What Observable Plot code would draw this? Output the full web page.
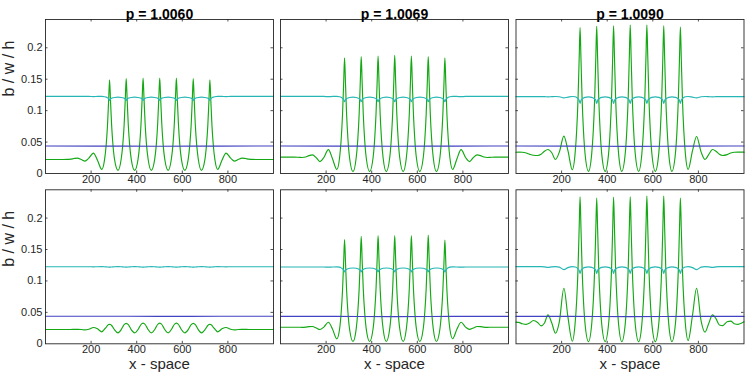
<!DOCTYPE html>
<html><head><meta charset="utf-8">
<script src="https://cdn.jsdelivr.net/npm/d3@7"></script>
<script src="https://cdn.jsdelivr.net/npm/@observablehq/plot@0.6"></script>
<style>
html,body{margin:0;padding:0;background:#fff;}
#chart{position:relative;width:747px;height:374px;overflow:hidden;}
</style></head><body><div id="chart"></div>
<script>
const titles = ["p = 1.0060", "p = 1.0069", "p = 1.0090"];
const xTicks = [200, 400, 600, 800];
const yTicks = [0, 0.05, 0.1, 0.15, 0.2];
const yLabel = "b / w / h";
const xLabel = "x - space";

const xs = [
0,12,28,45,60,76,95,110,125,140,157,173,190,210,228,247,
259,266,272,277,281,285,290,296,303,318,
332,339,345,350,354,358,363,369,376,391,
406,413,419,424,428,432,437,443,450,464,
479,486,492,497,501,505,510,516,523,538,
552,559,565,570,574,578,583,589,596,611,
626,633,639,644,648,652,657,663,670,684,
699,706,712,717,721,725,730,736,743,
755,774,792,812,829,845,862,877,892,907,926,942,957,974,990,1000];

// b (green), top row
const b1 = [
0.0223,0.0223,0.0223,0.0223,0.0223,0.0223,0.0224,0.0228,0.0238,0.0245,0.0222,0.0198,0.0245,0.0325,0.0210,0.0065,
0.022,0.045,0.077,0.117,0.149,0.117,0.077,0.045,0.022,0.005,
0.023,0.046,0.078,0.119,0.151,0.119,0.078,0.046,0.023,0.005,
0.023,0.046,0.079,0.120,0.152,0.120,0.079,0.046,0.023,0.005,
0.023,0.046,0.079,0.120,0.152,0.120,0.079,0.046,0.023,0.005,
0.023,0.046,0.079,0.120,0.152,0.120,0.079,0.046,0.023,0.005,
0.023,0.046,0.078,0.119,0.151,0.119,0.078,0.046,0.023,0.005,
0.022,0.045,0.077,0.117,0.149,0.117,0.077,0.045,0.022,
0.0065,0.0210,0.0325,0.0245,0.0198,0.0222,0.0245,0.0238,0.0228,0.0224,0.0223,0.0223,0.0223,0.0223,0.0223,0.0223];
const b2 = [
0.0260,0.0260,0.0260,0.0260,0.0260,0.0259,0.0255,0.0262,0.0285,0.0296,0.0250,0.0190,0.0255,0.0380,0.0235,0.0064,
0.0247,0.0537,0.0935,0.144,0.184,0.144,0.0935,0.0537,0.0247,0.003,
0.025,0.054,0.0945,0.146,0.186,0.146,0.0945,0.054,0.025,0.003,
0.025,0.0545,0.095,0.1465,0.187,0.1465,0.095,0.0545,0.025,0.003,
0.025,0.055,0.0955,0.147,0.188,0.147,0.0955,0.055,0.025,0.003,
0.025,0.0545,0.095,0.1465,0.187,0.1465,0.095,0.0545,0.025,0.003,
0.025,0.054,0.0945,0.146,0.186,0.146,0.0945,0.054,0.025,0.003,
0.0247,0.0537,0.0935,0.144,0.184,0.144,0.0935,0.0537,0.0247,
0.0064,0.0235,0.0380,0.0255,0.0190,0.0250,0.0296,0.0285,0.0262,0.0255,0.0259,0.0260,0.0260,0.0260,0.0260,0.0260];
const b3 = [
0.0338,0.0340,0.0338,0.0325,0.0305,0.0290,0.0287,0.0305,0.0355,0.0382,0.0330,0.0223,0.0340,0.0594,0.0360,0.0059,
0.031,0.0675,0.118,0.182,0.232,0.182,0.118,0.0675,0.031,0.0035,
0.0312,0.068,0.1188,0.1833,0.234,0.1833,0.1188,0.068,0.0312,0.0035,
0.0313,0.0683,0.119,0.184,0.235,0.184,0.119,0.0683,0.0313,0.0035,
0.0314,0.0686,0.1198,0.185,0.236,0.185,0.1198,0.0686,0.0314,0.0035,
0.0314,0.0686,0.1198,0.185,0.236,0.185,0.1198,0.0686,0.0314,0.0035,
0.0313,0.0683,0.119,0.184,0.235,0.184,0.119,0.0683,0.0313,0.0035,
0.031,0.0678,0.1183,0.1825,0.233,0.1825,0.1183,0.0678,0.031,
0.0064,0.0360,0.0589,0.0340,0.0223,0.0300,0.0382,0.0355,0.0305,0.0287,0.0300,0.0325,0.0338,0.0340,0.0340,0.0340];
// b (green), bottom row
const b4 = [
0.0228,0.0228,0.0228,0.0228,0.0228,0.0228,0.0228,0.0228,0.0229,0.0230,0.0227,0.0221,0.0232,0.0260,0.0238,0.0190,
0.0235,0.0262,0.0291,0.0306,0.0310,0.0306,0.0291,0.0261,0.0221,0.0175,
0.0226,0.0271,0.0304,0.0320,0.0325,0.0320,0.0304,0.0271,0.0226,0.0175,
0.0227,0.0273,0.0307,0.0323,0.0328,0.0323,0.0307,0.0273,0.0227,0.0175,
0.0227,0.0273,0.0307,0.0323,0.0328,0.0323,0.0307,0.0273,0.0227,0.0175,
0.0227,0.0273,0.0307,0.0323,0.0328,0.0323,0.0307,0.0273,0.0227,0.0175,
0.0226,0.0271,0.0304,0.0320,0.0325,0.0320,0.0304,0.0271,0.0226,0.0175,
0.0221,0.0261,0.0291,0.0306,0.0310,0.0306,0.0291,0.0262,0.0235,
0.0190,0.0238,0.0260,0.0232,0.0221,0.0227,0.0230,0.0229,0.0228,0.0228,0.0228,0.0228,0.0228,0.0228,0.0228,0.0228];
const b5 = [
0.0264,0.0264,0.0264,0.0264,0.0264,0.0264,0.0262,0.0265,0.0273,0.0275,0.0252,0.0227,0.0265,0.0343,0.0235,0.0079,
0.0232,0.0491,0.0849,0.1303,0.166,0.1303,0.0849,0.0491,0.0232,0.0037,
0.0238,0.0505,0.0874,0.1342,0.171,0.1342,0.0874,0.0505,0.0238,0.0037,
0.0239,0.0508,0.0879,0.135,0.172,0.135,0.0879,0.0508,0.0239,0.0037,
0.0239,0.0508,0.0879,0.135,0.172,0.135,0.0879,0.0508,0.0239,0.0037,
0.0239,0.0508,0.0879,0.135,0.172,0.135,0.0879,0.0508,0.0239,0.0037,
0.024,0.051,0.0884,0.1358,0.173,0.1358,0.0884,0.051,0.024,0.0037,
0.0231,0.0489,0.0844,0.1295,0.165,0.1295,0.0844,0.0489,0.0231,
0.0081,0.0235,0.0343,0.0265,0.0230,0.0250,0.0275,0.0273,0.0265,0.0262,0.0264,0.0264,0.0264,0.0264,0.0264,0.0264];
const b6 = [
0.0345,0.0340,0.0318,0.0308,0.0330,0.0370,0.0340,0.0285,0.0330,0.0460,0.0330,0.0168,0.0350,0.0883,0.0420,0.0041,
0.0312,0.068,0.1188,0.1833,0.234,0.1833,0.1188,0.068,0.0312,0.0035,
0.031,0.0675,0.118,0.182,0.232,0.182,0.118,0.0675,0.031,0.0035,
0.031,0.0678,0.1183,0.1825,0.233,0.1825,0.1183,0.0678,0.031,0.0035,
0.0312,0.068,0.1188,0.1833,0.234,0.1833,0.1188,0.068,0.0312,0.0035,
0.0313,0.0683,0.119,0.184,0.235,0.184,0.119,0.0683,0.0313,0.0035,
0.0313,0.0683,0.119,0.184,0.235,0.184,0.119,0.0683,0.0313,0.0035,
0.031,0.0675,0.118,0.182,0.232,0.182,0.118,0.0675,0.031,
0.0052,0.0450,0.0883,0.0360,0.0185,0.0320,0.0460,0.0400,0.0300,0.0290,0.0350,0.0360,0.0320,0.0310,0.0330,0.0350];

// w (cyan)
const w1 = [
0.1226,0.1226,0.1226,0.1226,0.1226,0.1226,0.1226,0.1226,0.1226,0.1226,0.1226,0.1226,0.1226,0.1223,0.1226,0.1228,
0.1222,0.1215,0.1203,0.1188,0.1162,0.1186,0.1197,0.1205,0.1210,0.1215,
0.1210,0.1205,0.1197,0.1186,0.1162,0.1186,0.1197,0.1205,0.1210,0.1215,
0.1210,0.1205,0.1197,0.1186,0.1162,0.1186,0.1197,0.1205,0.1210,0.1215,
0.1210,0.1205,0.1197,0.1186,0.1162,0.1186,0.1197,0.1205,0.1210,0.1215,
0.1210,0.1205,0.1197,0.1186,0.1162,0.1186,0.1197,0.1205,0.1210,0.1215,
0.1210,0.1205,0.1197,0.1186,0.1162,0.1186,0.1197,0.1205,0.1210,0.1215,
0.1210,0.1205,0.1197,0.1186,0.1162,0.1188,0.1203,0.1215,0.1222,
0.1228,0.1226,0.1223,0.1226,0.1226,0.1226,0.1226,0.1226,0.1226,0.1226,0.1226,0.1226,0.1226,0.1226,0.1226,0.1226];
const w2 = [
0.1226,0.1226,0.1226,0.1226,0.1226,0.1226,0.1226,0.1226,0.1226,0.1226,0.1226,0.1226,0.1226,0.1222,0.1226,0.1228,
0.1222,0.1212,0.1195,0.1175,0.1142,0.1175,0.1190,0.1201,0.1209,0.1215,
0.1209,0.1201,0.1190,0.1175,0.1142,0.1175,0.1190,0.1201,0.1209,0.1215,
0.1209,0.1201,0.1190,0.1175,0.1142,0.1175,0.1190,0.1201,0.1209,0.1215,
0.1209,0.1201,0.1190,0.1175,0.1142,0.1175,0.1190,0.1201,0.1209,0.1215,
0.1209,0.1201,0.1190,0.1175,0.1142,0.1175,0.1190,0.1201,0.1209,0.1215,
0.1209,0.1201,0.1190,0.1175,0.1142,0.1175,0.1190,0.1201,0.1209,0.1215,
0.1209,0.1201,0.1190,0.1175,0.1142,0.1175,0.1195,0.1212,0.1222,
0.1228,0.1226,0.1222,0.1226,0.1226,0.1226,0.1226,0.1226,0.1226,0.1226,0.1226,0.1226,0.1226,0.1226,0.1226,0.1226];
const w3 = [
0.1222,0.1222,0.1222,0.1222,0.1222,0.1222,0.1222,0.1222,0.1222,0.1220,0.1223,0.1225,0.1221,0.1203,0.1215,0.1225,
0.1220,0.1210,0.1190,0.1165,0.1115,0.1163,0.1184,0.1200,0.1211,0.1220,
0.1211,0.1200,0.1184,0.1163,0.1115,0.1163,0.1184,0.1200,0.1211,0.1220,
0.1211,0.1200,0.1184,0.1163,0.1115,0.1163,0.1184,0.1200,0.1211,0.1220,
0.1211,0.1200,0.1184,0.1163,0.1115,0.1163,0.1184,0.1200,0.1211,0.1220,
0.1211,0.1200,0.1184,0.1163,0.1115,0.1163,0.1184,0.1200,0.1211,0.1220,
0.1211,0.1200,0.1184,0.1163,0.1115,0.1163,0.1184,0.1200,0.1211,0.1220,
0.1211,0.1200,0.1184,0.1163,0.1115,0.1165,0.1190,0.1210,0.1220,
0.1225,0.1215,0.1203,0.1221,0.1225,0.1223,0.1220,0.1222,0.1222,0.1222,0.1222,0.1222,0.1222,0.1222,0.1222,0.1222];
const w4 = [
0.1226,0.1226,0.1226,0.1226,0.1226,0.1226,0.1226,0.1226,0.1226,0.1226,0.1226,0.1226,0.1226,0.1224,0.1226,0.1227,
0.1226,0.1224,0.1222,0.1220,0.1219,0.1220,0.1222,0.1224,0.1226,0.1227,
0.1226,0.1224,0.1222,0.1220,0.1219,0.1220,0.1222,0.1224,0.1226,0.1227,
0.1226,0.1224,0.1222,0.1220,0.1219,0.1220,0.1222,0.1224,0.1226,0.1227,
0.1226,0.1224,0.1222,0.1220,0.1219,0.1220,0.1222,0.1224,0.1226,0.1227,
0.1226,0.1224,0.1222,0.1220,0.1219,0.1220,0.1222,0.1224,0.1226,0.1227,
0.1226,0.1224,0.1222,0.1220,0.1219,0.1220,0.1222,0.1224,0.1226,0.1227,
0.1226,0.1224,0.1222,0.1220,0.1219,0.1220,0.1222,0.1224,0.1226,
0.1227,0.1226,0.1224,0.1226,0.1226,0.1226,0.1226,0.1226,0.1226,0.1226,0.1226,0.1226,0.1226,0.1226,0.1226,0.1226];
const w5 = [
0.1222,0.1222,0.1222,0.1222,0.1222,0.1222,0.1222,0.1222,0.1222,0.1222,0.1222,0.1222,0.1222,0.1219,0.1222,0.1224,
0.1219,0.1208,0.1192,0.1172,0.1143,0.1172,0.1184,0.1194,0.1201,0.1206,
0.1201,0.1194,0.1184,0.1172,0.1143,0.1172,0.1184,0.1194,0.1201,0.1206,
0.1201,0.1194,0.1184,0.1172,0.1143,0.1172,0.1184,0.1194,0.1201,0.1206,
0.1201,0.1194,0.1184,0.1172,0.1143,0.1172,0.1184,0.1194,0.1201,0.1206,
0.1201,0.1194,0.1184,0.1172,0.1143,0.1172,0.1184,0.1194,0.1201,0.1206,
0.1201,0.1194,0.1184,0.1172,0.1143,0.1172,0.1184,0.1194,0.1201,0.1206,
0.1201,0.1194,0.1184,0.1172,0.1143,0.1172,0.1192,0.1208,0.1219,
0.1224,0.1222,0.1219,0.1222,0.1222,0.1222,0.1222,0.1222,0.1222,0.1222,0.1222,0.1222,0.1222,0.1222,0.1222,0.1222];
const w6 = [
0.1227,0.1227,0.1227,0.1227,0.1227,0.1227,0.1227,0.1227,0.1224,0.1215,0.1224,0.1227,0.1220,0.1180,0.1212,0.1228,
0.1222,0.1212,0.1192,0.1168,0.1120,0.1168,0.1189,0.1205,0.1216,0.1225,
0.1216,0.1205,0.1189,0.1168,0.1120,0.1168,0.1189,0.1205,0.1216,0.1225,
0.1216,0.1205,0.1189,0.1168,0.1120,0.1168,0.1189,0.1205,0.1216,0.1225,
0.1216,0.1205,0.1189,0.1168,0.1120,0.1168,0.1189,0.1205,0.1216,0.1225,
0.1216,0.1205,0.1189,0.1168,0.1120,0.1168,0.1189,0.1205,0.1216,0.1225,
0.1216,0.1205,0.1189,0.1168,0.1120,0.1168,0.1189,0.1205,0.1216,0.1225,
0.1216,0.1205,0.1189,0.1168,0.1120,0.1168,0.1192,0.1212,0.1222,
0.1228,0.1212,0.1180,0.1220,0.1227,0.1224,0.1215,0.1224,0.1227,0.1227,0.1227,0.1227,0.1227,0.1227,0.1227,0.1227];

// h (blue)
const xsH = [0, 240, 500, 760, 1000];
const h1 = [0.0437, 0.0436, 0.0433, 0.0436, 0.0437];
const h2 = [0.0437, 0.0436, 0.0433, 0.0436, 0.0437];
const h3 = [0.0437, 0.0436, 0.0432, 0.0436, 0.0437];
const h4 = [0.0438, 0.0438, 0.0437, 0.0438, 0.0438];
const h5 = [0.0437, 0.0436, 0.0433, 0.0436, 0.0437];
const h6 = [0.0437, 0.0436, 0.0432, 0.0436, 0.0437];

const GREEN = "#14a814", CYAN = "#26b6b6", BLUE = "#4141c2", AX = "#262626";
const FONT = "'Liberation Sans', Arial, Helvetica, sans-serif";
const FW = 228, FH = 154, TL = 2.5;
const cols = [{left: 0, ml: 45, mr: 3}, {left: 276, ml: 4, mr: 3}, {left: 511, ml: 4.5, mr: 3}];
const rows = [{top: 0, mt: 19, mb: 15}, {top: 188, mt: 1.3, mb: 30.7}];
const panels = [
  {c: 0, r: 0, b: b1, w: w1, h: h1}, {c: 1, r: 0, b: b2, w: w2, h: h2}, {c: 2, r: 0, b: b3, w: w3, h: h3},
  {c: 0, r: 1, b: b4, w: w4, h: h4}, {c: 1, r: 1, b: b5, w: w5, h: h5}, {c: 2, r: 1, b: b6, w: w6, h: h6}
];

const chart = document.getElementById("chart");
for (const p of panels) {
  const col = cols[p.c], row = rows[p.r];
  const data = xs.map((x, i) => ({x, b: p.b[i], w: p.w[i]}));
  const hData = xsH.map((x, i) => ({x, h: p.h[i]}));
  const marks = [
    Plot.line(data, {x: "x", y: "b", stroke: GREEN, strokeWidth: 1.15, curve: "monotone-x"}),
    Plot.line(data, {x: "x", y: "w", stroke: CYAN, strokeWidth: 1.15, curve: "monotone-x"}),
    Plot.line(hData, {x: "x", y: "h", stroke: BLUE, strokeWidth: 1.15, curve: "monotone-x"}),
    Plot.ruleX(xTicks, {x: d => d, insetTop: FH - TL, stroke: AX, strokeWidth: 0.8}),
    Plot.ruleX(xTicks, {x: d => d, insetBottom: FH - TL, stroke: AX, strokeWidth: 0.8}),
    Plot.ruleY(yTicks.slice(1), {y: d => d, insetRight: FW - TL, stroke: AX, strokeWidth: 0.8}),
    Plot.ruleY(yTicks.slice(1), {y: d => d, insetLeft: FW - TL, stroke: AX, strokeWidth: 0.8}),
    Plot.frame({stroke: AX, strokeWidth: 0.9}),
    Plot.text(xTicks, {x: d => d, text: d => String(d), frameAnchor: "bottom", dy: 9.5, fontSize: 11, fill: AX})
  ];
  if (p.c === 0) {
    marks.push(Plot.text(yTicks, {y: d => d, text: d => String(d), frameAnchor: "left", dx: -3, textAnchor: "end", fontSize: 11, fill: AX}));
    marks.push(Plot.text([yLabel], {text: d => d, frameAnchor: "left", dx: -37, rotate: -90, fontSize: 16, fill: AX}));
  }
  if (p.r === 0) {
    marks.push(Plot.text([titles[p.c]], {text: d => d, frameAnchor: "top", dy: -10, fontSize: 14, fontWeight: "bold", fill: "#000"}));
  } else {
    marks.push(Plot.text([xLabel], {text: d => d, frameAnchor: "bottom", dy: 25, fontSize: 15, fill: AX}));
  }
  const svg = Plot.plot({
    width: col.ml + FW + col.mr,
    height: row.mt + FH + row.mb,
    marginLeft: col.ml, marginRight: col.mr, marginTop: row.mt, marginBottom: row.mb,
    x: {domain: [0, 1000], axis: null},
    y: {domain: [0, 0.245], axis: null},
    style: {position: "absolute", left: col.left + "px", top: row.top + "px", background: "transparent", overflow: "visible", fontFamily: FONT, fontSize: "11px", color: AX},
    marks
  });
  chart.appendChild(svg);
}
</script></body></html>
